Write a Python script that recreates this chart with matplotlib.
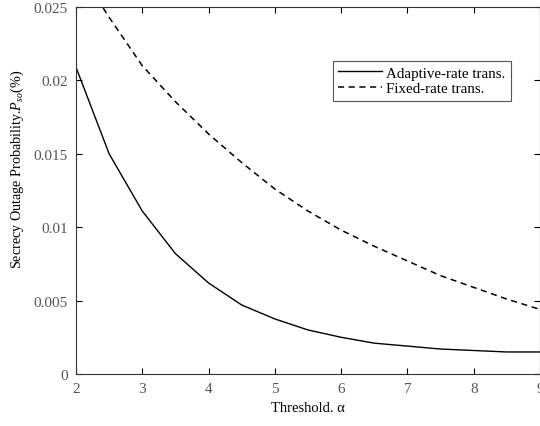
import matplotlib
matplotlib.use("Agg")
import matplotlib.pyplot as plt

plt.rcParams["font.family"] = ["Liberation Serif", "DejaVu Serif"]
plt.rcParams["mathtext.fontset"] = "custom"
plt.rcParams["mathtext.it"] = "Liberation Serif:italic"
plt.rcParams["mathtext.rm"] = "Liberation Serif"

# threshold alpha
alpha = [2, 2.5, 3, 3.5, 4, 4.5, 5, 5.5, 6, 6.5, 7, 7.5, 8, 8.5, 9]
# secrecy outage probability
adaptive = [0.0209, 0.0150, 0.0111, 0.0082, 0.0062, 0.0047, 0.00375, 0.0030,
            0.0025, 0.0021, 0.0019, 0.0017, 0.0016, 0.0015, 0.0015]
fixed = [0.0278, 0.0243, 0.0210, 0.01855, 0.01635, 0.0144, 0.0126, 0.0111,
         0.0098, 0.0087, 0.0077, 0.0067, 0.0059, 0.0051, 0.0044]
xticks = [2, 3, 4, 5, 6, 7, 8, 9]
yticks = [0, 0.005, 0.01, 0.015, 0.02, 0.025]
ytick_labels = ["0", "0.005", "0.01", "0.015", "0.02", "0.025"]

fig = plt.figure(figsize=(5.4, 4.27), dpi=100)
ax = fig.add_axes([0.1407, 0.1218, 0.8593, 0.8595])

ax.plot(alpha, adaptive, color="black", lw=1.0, label="Adaptive-rate trans.")
ax.plot(alpha, fixed, color="black", lw=1.1, dashes=(4, 3), label="Fixed-rate trans.")

ax.set_xlim(2, 9)
ax.set_ylim(0, 0.025)
ax.set_xticks(xticks)
ax.set_yticks(yticks)
ax.set_yticklabels(ytick_labels)
ax.tick_params(direction="in", top=True, right=True, length=4, width=0.8,
               labelsize=11, labelcolor="#555555", pad=6)
for s in ax.spines.values():
    s.set_linewidth(0.8)
    s.set_color("#333333")

ax.set_xlabel("Threshold. α", fontsize=10.5)
ax.set_ylabel("Secrecy Outage Probability.$P_{so}$(%)", fontsize=10.2)
ax.yaxis.set_label_coords(-0.108, 0.559)

leg = ax.legend(loc="upper left", bbox_to_anchor=(0.554, 0.853), fontsize=10.8,
                handlelength=2.9, fancybox=False, edgecolor="#555555",
                framealpha=1, borderpad=0.35, labelspacing=0.15, handletextpad=0.3,
                borderaxespad=0)
leg.get_frame().set_linewidth(0.8)

fig.savefig("out.png", dpi=100)
